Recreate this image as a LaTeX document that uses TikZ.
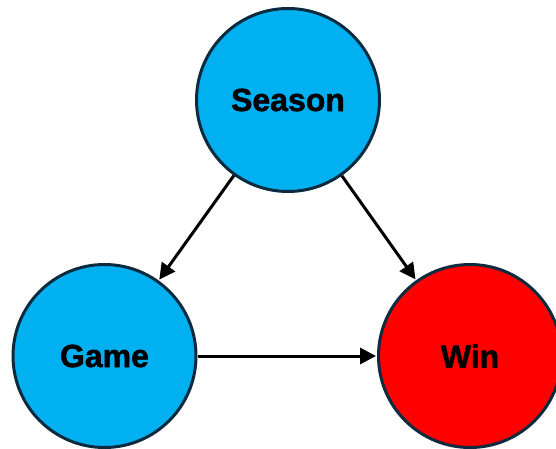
\documentclass[tikz,border=0pt]{standalone}
\usepackage{fontspec}
\setmainfont{Liberation Sans}
\newfontfamily\heavyfont[FakeBold=1.5]{Liberation Sans Bold}
\usetikzlibrary{arrows.meta}
\definecolor{cyanfill}{HTML}{00B0F0}
\definecolor{edgecol}{HTML}{0D2B3E}
\tikzset{
  var/.style={circle, draw=edgecol, line width=3pt, minimum size=183pt, inner sep=0pt, font=\heavyfont\fontsize{32}{38}\selectfont, text=black},
  link/.style={line width=3pt, -{Triangle[length=16pt,width=16pt]}, shorten >=1pt}
}
\begin{document}
\begin{tikzpicture}[x=1pt,y=-1pt]
\useasboundingbox (0,0) rectangle (556,449);
\node[var, fill=cyanfill] (season) at (288,100) {Season};
\node[var, fill=cyanfill] (game) at (104.5,356) {Game};
\node[var, fill=red] (win) at (470,356) {Win};
\draw[link] (season) -- (game);
\draw[link] (season) -- (win);
\draw[link] (game) -- (win);
\end{tikzpicture}
\end{document}
